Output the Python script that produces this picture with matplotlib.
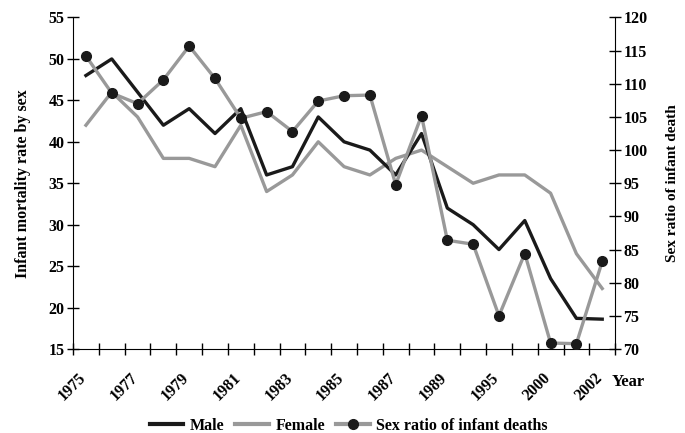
import numpy as np
import matplotlib.pyplot as plt
import matplotlib.transforms as mtransforms
from matplotlib.lines import Line2D

# datos
years = ['1975', '1976', '1977', '1978', '1979', '1980', '1981', '1982', '1983',
         '1984', '1985', '1986', '1987', '1988', '1989', '1990', '1995', '1998',
         '2000', '2001', '2002']
male = [48, 50, 46, 42, 44, 41, 44, 36, 37, 43, 40, 39, 36, 41, 32, 30, 27,
        30.5, 23.5, 18.7, 18.6]
female = [42, 46, 43, 38, 38, 37, 42, 34, 36, 40, 37, 36, 38, 39, 37, 35, 36,
          36, 33.8, 26.5, 22.3]
ratio = [114.2, 108.6, 107.0, 110.6, 115.7, 110.8, 104.8, 105.8, 102.8, 107.4,
         108.2, 108.3, 94.8, 105.2, 86.4, 85.8, 75.0, 84.4, 70.9, 70.8, 83.2]

plt.rcParams['font.family'] = 'Liberation Serif'
plt.rcParams['font.weight'] = 'bold'
plt.rcParams['axes.labelweight'] = 'bold'
plt.rcParams['font.size'] = 11.5

grey = '#999999'
black = '#1a1a1a'
x = np.arange(len(years))

fig = plt.figure(figsize=(6.85, 4.33), dpi=100)
ax = fig.add_axes([0.1066, 0.194, 0.7914, 0.7656])
ax2 = ax.twinx()

ax.plot(x, female, color=grey, lw=2.4)
ax.plot(x, male, color=black, lw=2.4)
ax2.plot(x, ratio, color=grey, lw=2.4, marker='o', ms=7,
         mfc=black, mec=black)

ax.set_xlim(-0.5, len(years) - 0.5)
ax.set_ylim(15, 55)
ax2.set_ylim(70, 120)
ax.set_yticks(np.arange(15, 56, 5))
ax2.set_yticks(np.arange(70, 121, 5))

# ticks en los bordes de categoria, etiquetas cada dos años
ax.set_xticks(np.arange(-0.5, len(years)))
ax.set_xticklabels([])
ax.set_xticks(x[::2], minor=True)
ax.set_xticklabels(years[::2], minor=True, rotation=45, ha='right',
                   rotation_mode='anchor')
ax.tick_params(axis='x', which='minor', length=0, pad=15)
ax.tick_params(axis='x', which='major', direction='inout', length=8, width=1)
ax.tick_params(axis='y', direction='inout', length=8, width=1, pad=2)
ax2.tick_params(axis='y', direction='inout', length=8, width=1, pad=2)
shift = mtransforms.ScaledTranslation(-8 / 100, 0, fig.dpi_scale_trans)
for lab in ax.get_xticklabels(minor=True):
    lab.set_transform(lab.get_transform() + shift)
for lab in ax.get_xticklabels(minor=True) + ax.get_yticklabels() + ax2.get_yticklabels():
    lab.set_fontweight('bold')

for a in (ax, ax2):
    a.spines['top'].set_visible(False)
ax.spines['right'].set_visible(False)
ax2.spines['left'].set_visible(False)
ax2.spines['bottom'].set_visible(False)

ax.set_ylabel('Infant mortality rate by sex', fontsize=11.5, labelpad=13)
ax2.set_ylabel('Sex ratio of infant death', fontsize=11, labelpad=13)
fig.text(0.893, 0.118, 'Year', fontsize=12, fontweight='bold', va='center')

handles = [Line2D([], [], color=black, lw=3),
           Line2D([], [], color=grey, lw=3),
           Line2D([], [], color=grey, lw=3, marker='o', ms=7,
                  mfc=black, mec=black)]
fig.legend(handles, ['Male', 'Female', 'Sex ratio of infant deaths'],
           loc='lower center', bbox_to_anchor=(0.509, -0.035), ncol=3,
           frameon=False, fontsize=11.5, handlelength=2.1, columnspacing=0.7,
           handletextpad=0.4)

fig.savefig('out.png', dpi=100)
